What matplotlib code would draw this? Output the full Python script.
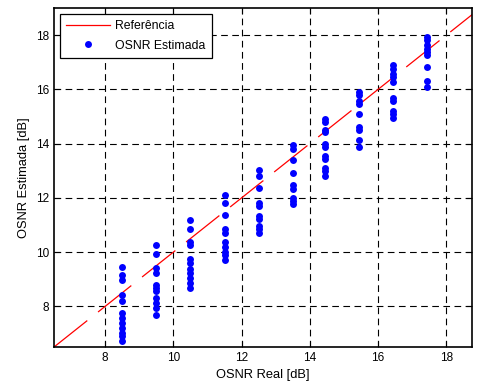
import numpy as np
import matplotlib.pyplot as plt

plt.rcParams['font.family'] = ['Liberation Sans', 'DejaVu Sans']

# x position of each column of estimates (OSNR real, dB)
osnr_real = [8.5, 9.5, 10.5, 11.5, 12.5, 13.5, 14.45, 15.45, 16.43, 17.43]

# estimated OSNR values in each column (dB)
osnr_est = [
    [9.44, 9.15, 8.99, 8.43, 8.21, 7.75, 7.57, 7.38, 7.20, 7.01, 6.89, 6.73],
    [10.28, 9.94, 9.40, 9.23, 8.80, 8.68, 8.56, 8.31, 8.12, 7.94, 7.69],
    [11.19, 10.86, 10.37, 10.28, 9.73, 9.60, 9.36, 9.23, 9.05, 8.86, 8.68],
    [12.11, 11.83, 11.37, 10.84, 10.71, 10.38, 10.18, 10.00, 9.88, 9.70],
    [13.04, 12.81, 12.38, 11.83, 11.70, 11.33, 11.21, 10.96, 10.84, 10.69],
    [13.96, 13.80, 13.40, 12.90, 12.48, 12.32, 12.01, 11.89, 11.77],
    [14.91, 14.79, 14.52, 14.42, 13.99, 13.86, 13.56, 13.43, 13.12, 13.00, 12.81],
    [15.90, 15.78, 15.59, 15.47, 15.10, 14.60, 14.50, 14.14, 13.89],
    [16.89, 16.77, 16.58, 16.46, 16.27, 15.69, 15.59, 15.22, 15.10, 14.95],
    [17.94, 17.81, 17.63, 17.51, 17.38, 17.26, 16.83, 16.31, 16.08],
]

ref = [6.5, 19.0]
ticks = [8, 10, 12, 14, 16, 18]

fig = plt.figure(figsize=(4.78, 3.86), dpi=100)
ax = fig.add_axes([0.113, 0.101, 0.874, 0.878])

ax.plot(ref, ref, color='red', linewidth=0.9, dashes=(34, 11), label='Referência')

xs = np.concatenate([[x] * len(v) for x, v in zip(osnr_real, osnr_est)])
ys = np.concatenate(osnr_est)
ax.plot(xs, ys, 'o', color='#0000ff', markersize=5.0, markeredgewidth=0,
        label='OSNR Estimada')

ax.set_xlim(6.5, 18.75)
ax.set_ylim(6.5, 19)
ax.set_xticks(ticks)
ax.set_yticks(ticks)
ax.tick_params(direction='in', top=True, right=True, labelsize=8.5, length=4)
ax.grid(True, color='k', linestyle=(0, (6, 4)), linewidth=0.8)
for s in ax.spines.values():
    s.set_linewidth(1.2)

ax.set_xlabel('OSNR Real [dB]', fontsize=9.3, labelpad=4)
ax.set_ylabel('OSNR Estimada [dB]', fontsize=9.3, labelpad=4)

leg = ax.legend(loc='upper left', fontsize=8.8, handlelength=3.6, handletextpad=0.4,
                fancybox=False, framealpha=1, edgecolor='k', borderaxespad=0.5,
                borderpad=0.5, labelspacing=0.6, numpoints=1)
leg.get_frame().set_linewidth(0.9)
leg.get_lines()[0].set_dashes([])
leg.get_lines()[0].set_linestyle('-')

fig.savefig('out.png', dpi=100)
